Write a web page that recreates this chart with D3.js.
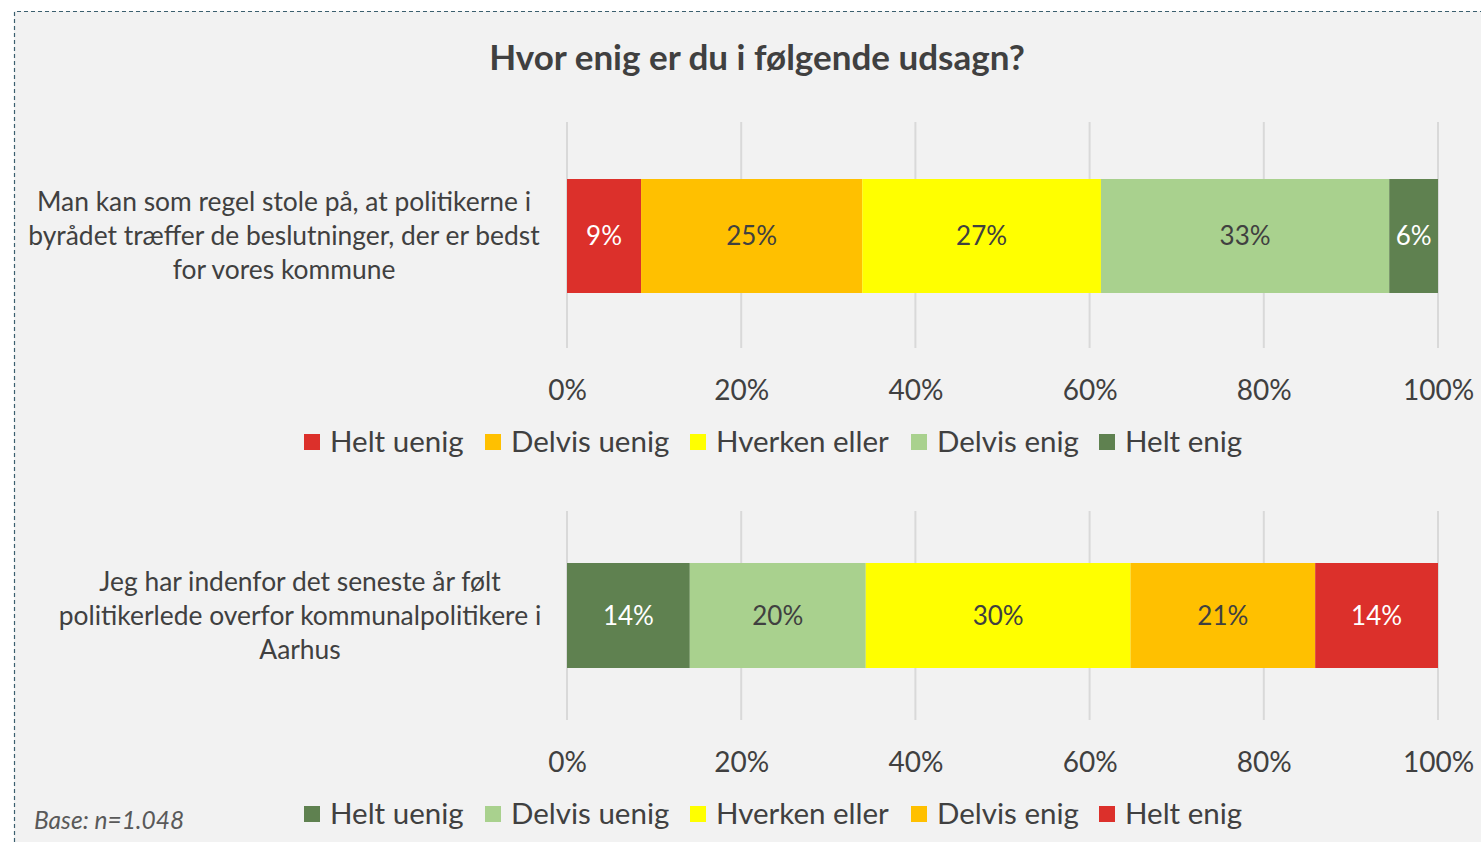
<!DOCTYPE html>
<html>
<head>
<meta charset="utf-8">
<script src="https://cdn.jsdelivr.net/npm/d3@7"></script>
<style>
  html, body { margin: 0; padding: 0; background: #fff; }
  svg { display: block; font-family: Lato, "Open Sans", sans-serif; }
</style>
</head>
<body>
<div id="vis"></div>
<script>
// data
const title = 'Hvor enig er du i følgende udsagn?';
const baseNote = 'Base: n=1.048';

const q1Label = ['Man kan som regel stole på, at politikerne i', 'byrådet træffer de beslutninger, der er bedst', 'for vores kommune'];
const q1Cats = ['Helt uenig', 'Delvis uenig', 'Hverken eller', 'Delvis enig', 'Helt enig'];
const q1Values = [8.5, 25.4, 27.4, 33.1, 5.6];
const q1Colors = ['#dc302b', '#ffc000', '#ffff00', '#a9d18e', '#5f8150'];

const q2Label = ['Jeg har indenfor det seneste år følt', 'politikerlede overfor kommunalpolitikere i', 'Aarhus'];
const q2Cats = ['Helt uenig', 'Delvis uenig', 'Hverken eller', 'Delvis enig', 'Helt enig'];
const q2Values = [14.1, 20.2, 30.4, 21.2, 14.1];
const q2Colors = ['#5f8150', '#a9d18e', '#ffff00', '#ffc000', '#dc302b'];

const tickValues = [0, 20, 40, 60, 80, 100];

const W = 1481, H = 842;
const textCol = '#404040';

const svg = d3.select('#vis').append('svg').attr('width', W).attr('height', H);

// panel with dashed border on top/left
svg.append('rect').attr('x', 14).attr('y', 11).attr('width', W).attr('height', H)
  .attr('fill', '#f2f2f2');
svg.append('path').attr('d', `M14.5,${H} V11.5 H${W}`)
  .attr('fill', 'none').attr('stroke', '#3b5f6e').attr('stroke-width', 1.2)
  .attr('stroke-dasharray', '4,3');

svg.append('text').attr('x', 757).attr('y', 70).attr('text-anchor', 'middle')
  .attr('font-size', 35).attr('font-weight', 700).attr('fill', textCol).text(title);

const x = d3.scaleLinear().domain([0, 100]).range([567, 1438]);

const charts = [
  { label: q1Label, cats: q1Cats, values: q1Values, colors: q1Colors,
    gridTop: 122, gridBot: 348, barTop: 179, barH: 114, labelX: 284, tickY: 400, legendY: 442 },
  { label: q2Label, cats: q2Cats, values: q2Values, colors: q2Colors,
    gridTop: 511, gridBot: 720, barTop: 563, barH: 105, labelX: 300, tickY: 772, legendY: 814 }
];

// legend item x positions (square left edge)
const legendX = [304, 485, 690, 911, 1099];

charts.forEach(c => {
  const g = svg.append('g');

  // gridlines
  g.selectAll('line.grid').data(tickValues).enter().append('line')
    .attr('x1', d => x(d)).attr('x2', d => x(d))
    .attr('y1', c.gridTop).attr('y2', c.gridBot)
    .attr('stroke', '#d9d9d9').attr('stroke-width', 2);

  // axis tick labels
  const axis = d3.axisBottom(x).tickValues(tickValues).tickSize(0).tickPadding(0)
    .tickFormat(d => d + '%');
  const ax = g.append('g').attr('transform', `translate(0,${c.tickY - 20})`).call(axis);
  ax.select('.domain').remove();
  ax.selectAll('text').attr('font-size', 28).attr('fill', textCol)
    .attr('font-family', 'Lato, sans-serif').attr('dy', 0).attr('y', 20);

  // stacked segments
  const stack = d3.cumsum(c.values);
  const segs = c.values.map((v, i) => ({ v, i, x0: stack[i] - v, x1: stack[i] }));
  const seg = g.selectAll('g.seg').data(segs).enter().append('g');
  seg.append('rect')
    .attr('x', d => x(d.x0)).attr('width', d => x(d.x1) - x(d.x0))
    .attr('y', c.barTop).attr('height', c.barH)
    .attr('fill', d => c.colors[d.i]);
  seg.append('text')
    .attr('x', d => (x(d.x0) + x(d.x1)) / 2).attr('y', c.barTop + c.barH / 2 + 9)
    .attr('text-anchor', 'middle').attr('font-size', 26)
    .attr('fill', d => (c.colors[d.i] === '#dc302b' || c.colors[d.i] === '#5f8150') ? '#fff' : textCol)
    .text(d => Math.round(d.v) + '%');

  // category label, three lines centred on the bar
  const mid = c.barTop + c.barH / 2 + 9;
  const lbl = g.append('text').attr('text-anchor', 'middle').attr('font-size', 26.4).attr('fill', textCol);
  c.label.forEach((line, i) => {
    lbl.append('tspan').attr('x', c.labelX).attr('y', mid + (i - 1) * 34).text(line);
  });

  // legend
  const lg = g.selectAll('g.leg').data(c.cats).enter().append('g')
    .attr('transform', (d, i) => `translate(${legendX[i]},${c.legendY})`);
  lg.append('rect').attr('x', 0).attr('y', -8).attr('width', 16).attr('height', 16)
    .attr('fill', (d, i) => c.colors[i]);
  lg.append('text').attr('x', 26).attr('y', 10).attr('font-size', 29.5).attr('fill', textCol).text(d => d);
});

svg.append('text').attr('x', 34).attr('y', 829).attr('font-size', 24.5)
  .attr('font-style', 'italic').attr('fill', '#595959').text(baseNote);
</script>
</body>
</html>
